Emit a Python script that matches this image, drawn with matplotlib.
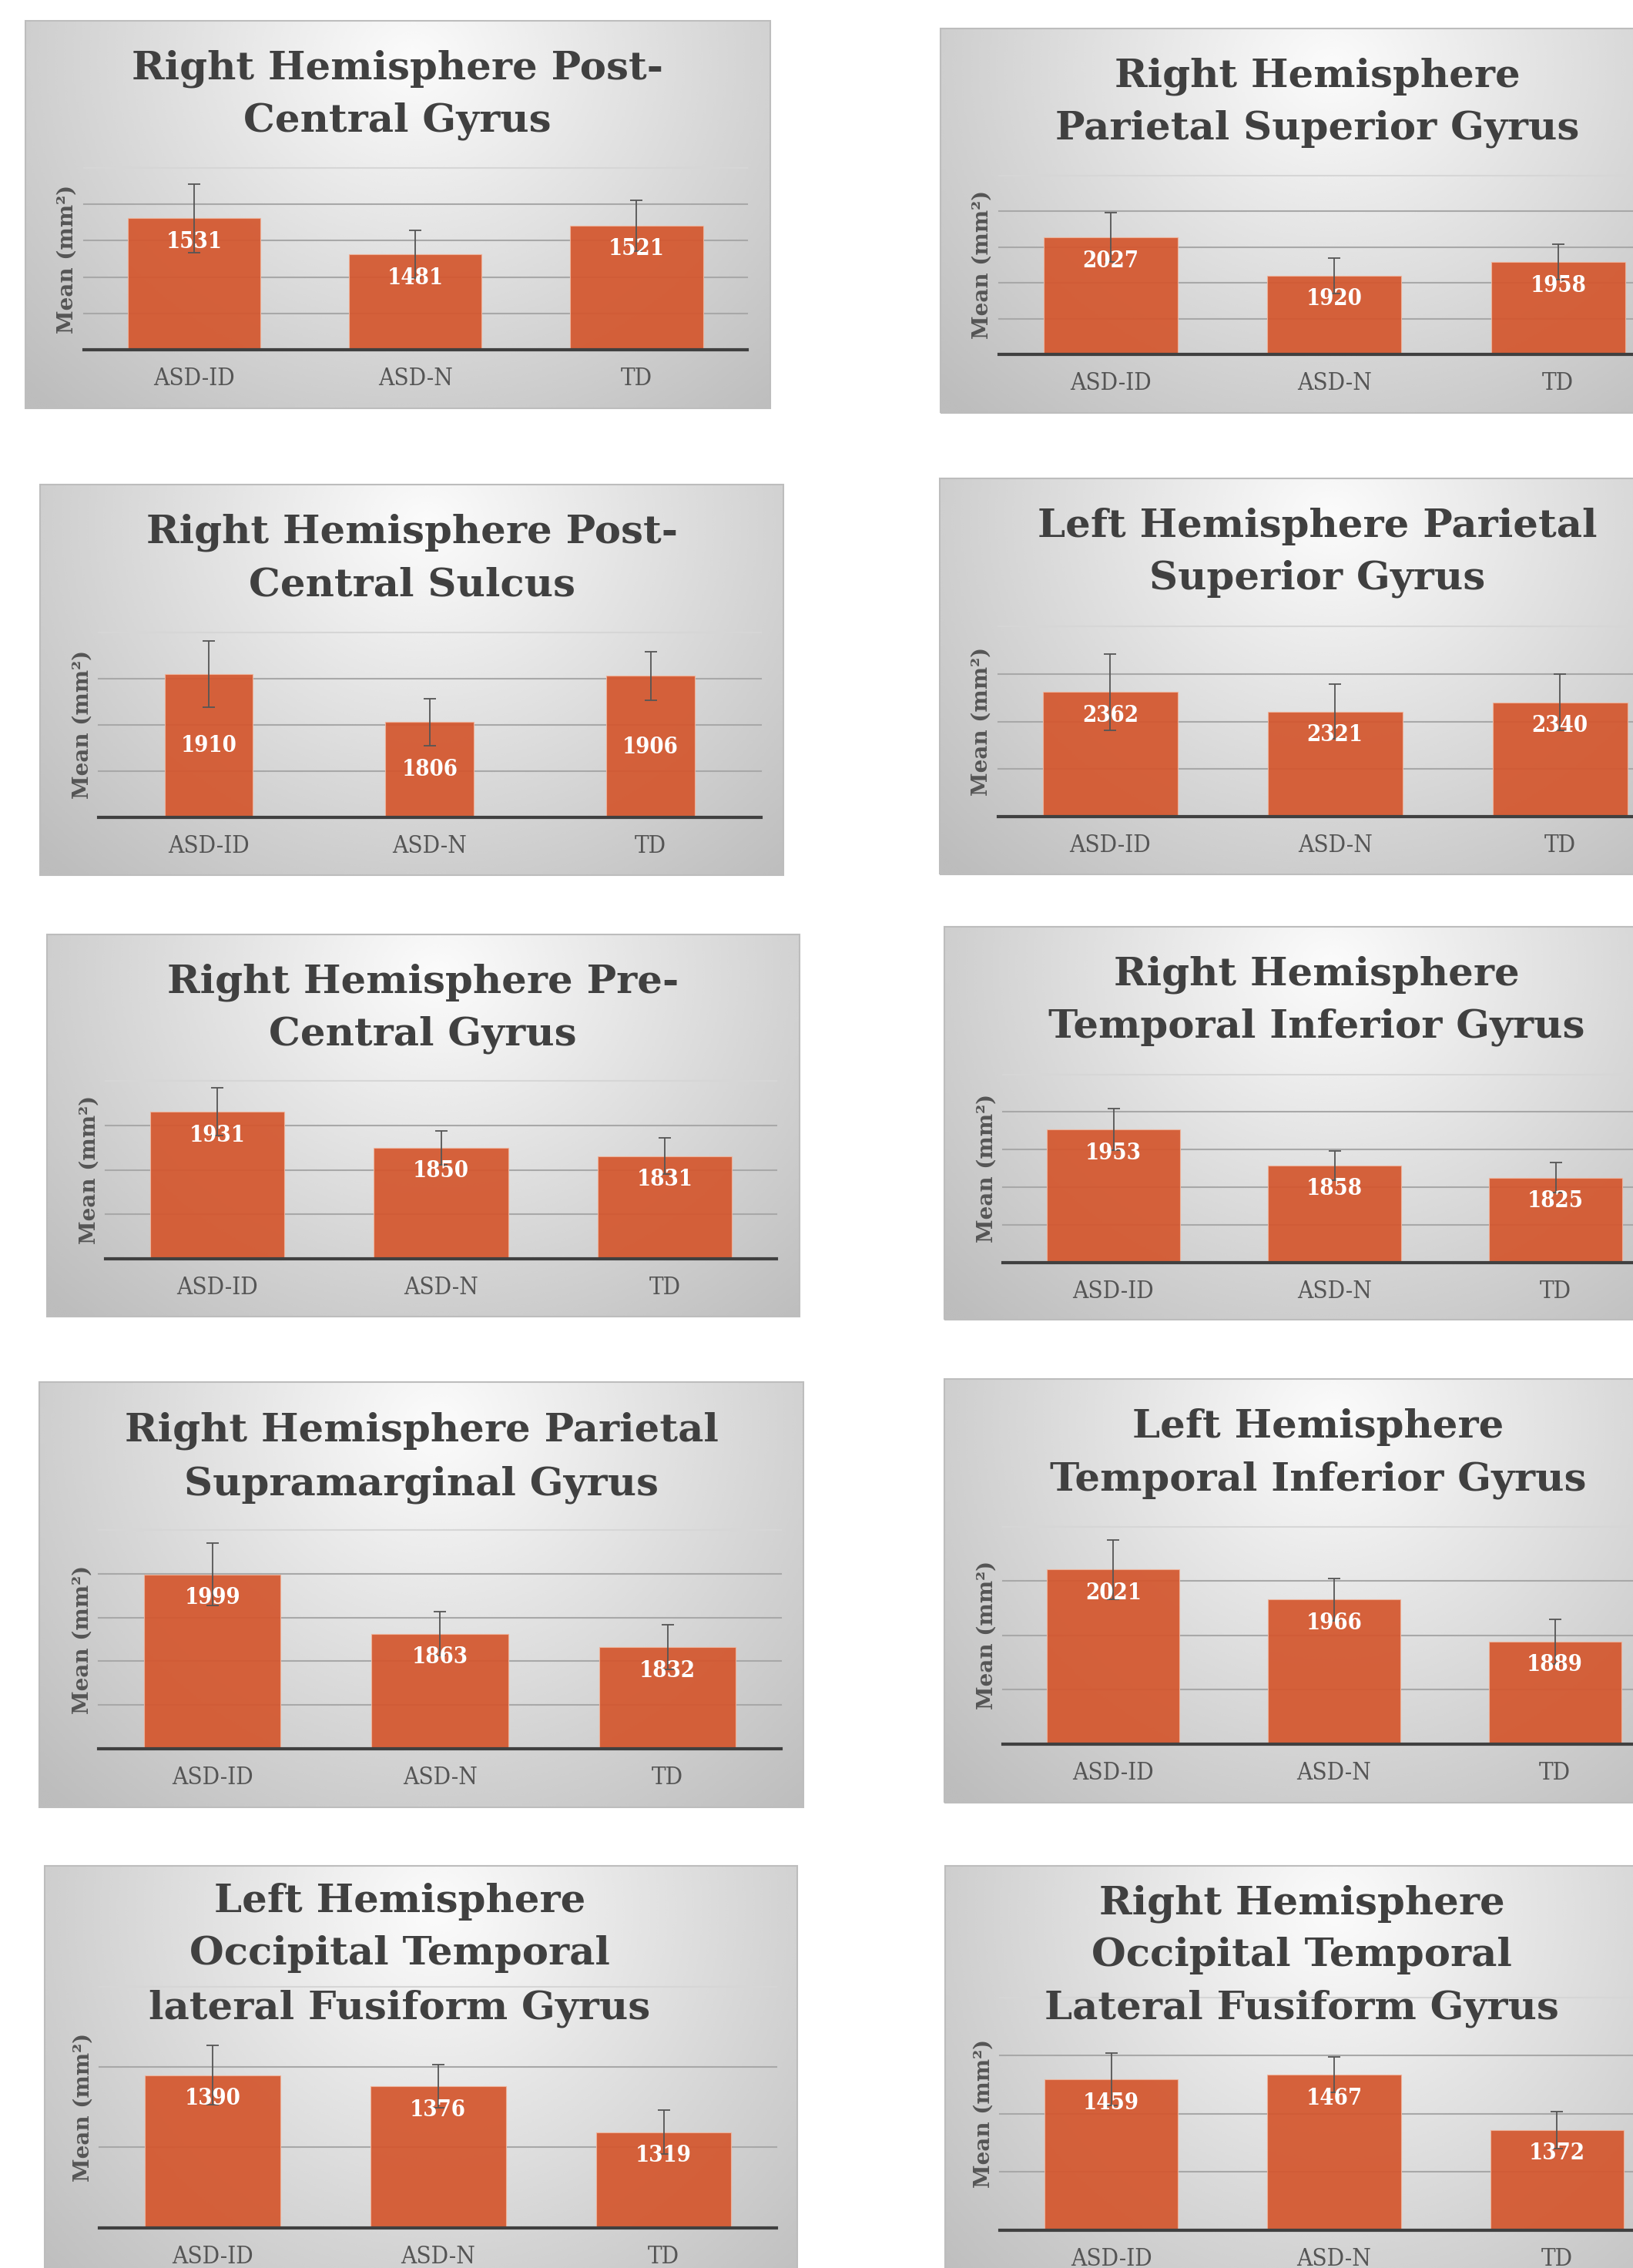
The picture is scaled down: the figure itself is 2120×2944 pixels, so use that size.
import numpy as np
import matplotlib
matplotlib.use("Agg")
import matplotlib.pyplot as plt
from matplotlib.patches import Rectangle
from matplotlib.font_manager import FontProperties

W, H = 2120, 2944

groups = ["ASD-ID", "ASD-N", "TD"]

titles = [
    ["Right Hemisphere Post-", "Central Gyrus"],
    ["Right Hemisphere", "Parietal Superior Gyrus"],
    ["Right Hemisphere Post-", "Central Sulcus"],
    ["Left Hemisphere Parietal", "Superior Gyrus"],
    ["Right Hemisphere Pre-", "Central Gyrus"],
    ["Right Hemisphere", "Temporal Inferior Gyrus"],
    ["Right Hemisphere Parietal", "Supramarginal Gyrus"],
    ["Left Hemisphere", "Temporal Inferior Gyrus"],
    ["Left Hemisphere", "Occipital Temporal", "lateral Fusiform Gyrus"],
    ["Right Hemisphere", "Occipital Temporal", "Lateral Fusiform Gyrus"],
]

# mean surface area per group (mm^2)
means = [
    [1531, 1481, 1521],
    [2027, 1920, 1958],
    [1910, 1806, 1906],
    [2362, 2321, 2340],
    [1931, 1850, 1831],
    [1953, 1858, 1825],
    [1999, 1863, 1832],
    [2021, 1966, 1889],
    [1390, 1376, 1319],
    [1459, 1467, 1372],
]

# error bar half-lengths
errors = [
    [47, 33, 35],
    [68, 49, 50],
    [72, 51, 53],
    [80, 57, 59],
    [54, 38, 41],
    [55, 39, 40],
    [71, 50, 51],
    [55, 39, 41],
    [37, 27, 27],
    [45, 31, 32],
]

# value axis min, max and gridline step
y_min = [1350, 1700, 1600, 2100, 1600, 1600, 1600, 1700, 1200, 1200]
y_max = [1600, 2200, 2000, 2500, 2000, 2100, 2100, 2100, 1500, 1600]
y_step = [50, 100, 100, 100, 100, 100, 100, 100, 100, 100]

# ---- layout, in pixels from the top-left corner ----
frames = [  # chart frame x0, y0, x1, y1
    (33, 27, 1000, 530), (1221, 37, 2199, 536),
    (52, 629, 1017, 1136), (1220, 621, 2199, 1135),
    (61, 1213, 1038, 1709), (1226, 1203, 2192, 1713),
    (51, 1794, 1043, 2346), (1226, 1790, 2196, 2340),
    (58, 2422, 1035, 3000), (1227, 2422, 2200, 3000),
]
plot_areas = [  # left, right, top, baseline
    (108.5, 970, 218, 454), (1296.5, 2168, 227.7, 460),
    (127.7, 988, 821, 1060.7), (1295.5, 2171, 813, 1060.2),
    (137, 1008, 1403.3, 1634), (1302, 2163, 1394.5, 1638.5),
    (127.8, 1014.4, 1986.4, 2269.6), (1302, 2162, 1981.7, 2264),
    (129.3, 1008, 2578.8, 2891.7), (1298, 2166, 2592.5, 2894.8),
]
title_cx = [516, 1710, 535, 1710, 549, 1709, 547, 1711, 519, 1690]
title_base = [
    [103, 171], [113, 180], [705, 773], [697, 765], [1288, 1357],
    [1279, 1347], [1871, 1940], [1866, 1934],
    [2482, 2550, 2620], [2484, 2552, 2621],
]
bar_width = [0.6, 0.6, 0.4, 0.6, 0.6, 0.6, 0.6, 0.6, 0.6, 0.6]
label_mid = [False, False, True, False, False, False, False, False, False, False]

BAR = "#d4572e"
GRID = "#a8a8a8"
GRID_TOP = "#d6d6d6"
DARK = "#404040"
MID = "#555555"

title_font = FontProperties(family="DejaVu Serif", weight="bold", size=37)
value_font = FontProperties(family="DejaVu Serif", weight="bold", stretch="condensed", size=21)
tick_font = FontProperties(family="DejaVu Serif", weight="normal", stretch="condensed", size=22.5)
ylab_font = FontProperties(family="DejaVu Serif", weight="bold", size=20)


def px_rect(x0, y0, x1, y1):
    return [x0 / W, 1 - y1 / H, (x1 - x0) / W, (y1 - y0) / H]


def draw_frame(fig, box):
    bg = fig.add_axes(px_rect(*box), zorder=0)
    yy, xx = np.mgrid[0:1:240j, 0:1:360j]
    d = np.hypot((xx - 0.52) / 0.62, (yy - 0.10) / 1.05)
    shade = np.clip(0.985 - 0.21 * d, 0.74, 1.0)
    bg.imshow(shade, cmap="gray", vmin=0, vmax=1, aspect="auto",
              interpolation="bicubic", extent=(0, 1, 1, 0))
    bg.set_xlim(0, 1)
    bg.set_ylim(1, 0)
    bg.axis("off")
    bg.add_patch(Rectangle((0, 0), 1, 1, transform=bg.transAxes, fill=False,
                           ec="#bdbdbd", lw=1.5, clip_on=False))


def draw_chart(fig, i):
    L, R, T, B = plot_areas[i]
    lo, hi, step = y_min[i], y_max[i], y_step[i]
    vals, err = means[i], errors[i]
    x = np.arange(len(groups))

    ax = fig.add_axes(px_rect(L, T, R, B), zorder=1)
    ax.patch.set_alpha(0)
    ax.set_xlim(-0.5, len(groups) - 0.5)
    ax.set_ylim(lo, hi)

    for gy in np.arange(lo + step, hi + step / 2, step):
        ax.axhline(gy, color=GRID_TOP if gy >= hi else GRID, lw=1.5, zorder=1, clip_on=False)

    ax.bar(x, vals, width=bar_width[i], color=BAR, alpha=0.93,
           edgecolor="#f0b49c", linewidth=0.8, zorder=2)
    ax.errorbar(x, vals, yerr=err, fmt="none", ecolor=MID, elinewidth=1.3,
                capsize=6, capthick=1.3, zorder=3)
    ax.axhline(lo, color=DARK, lw=3, zorder=4, clip_on=False)

    for v, xi in zip(vals, x):
        if label_mid[i]:
            ax.text(xi, (lo + v) / 2, str(v), ha="center", va="center",
                    color="white", fontproperties=value_font, zorder=5)
        else:
            ax.annotate(str(v), (xi, v), xytext=(0, -30), textcoords="offset pixels",
                        ha="center", va="center", color="white",
                        fontproperties=value_font, zorder=5)

    for s in ax.spines.values():
        s.set_visible(False)
    ax.set_yticks([])
    ax.set_xticks(x, groups)
    ax.tick_params(axis="x", length=0, pad=16, labelcolor=MID)
    for t in ax.get_xticklabels():
        t.set_fontproperties(tick_font)

    ax.text(-21 / (R - L), 0.5, "Mean (mm\u00b2)", transform=ax.transAxes, rotation=90,
            ha="center", va="center", color=MID, fontproperties=ylab_font)

    for line, yb in zip(titles[i], title_base[i]):
        fig.text(title_cx[i] / W, 1 - yb / H, line, ha="center", va="baseline",
                 color=DARK, fontproperties=title_font, zorder=6)


fig = plt.figure(figsize=(W / 100, H / 100), dpi=100)
fig.patch.set_facecolor("white")
for i in range(len(titles)):
    draw_frame(fig, frames[i])
    draw_chart(fig, i)

fig.savefig("out.png", dpi=100, facecolor="white")
